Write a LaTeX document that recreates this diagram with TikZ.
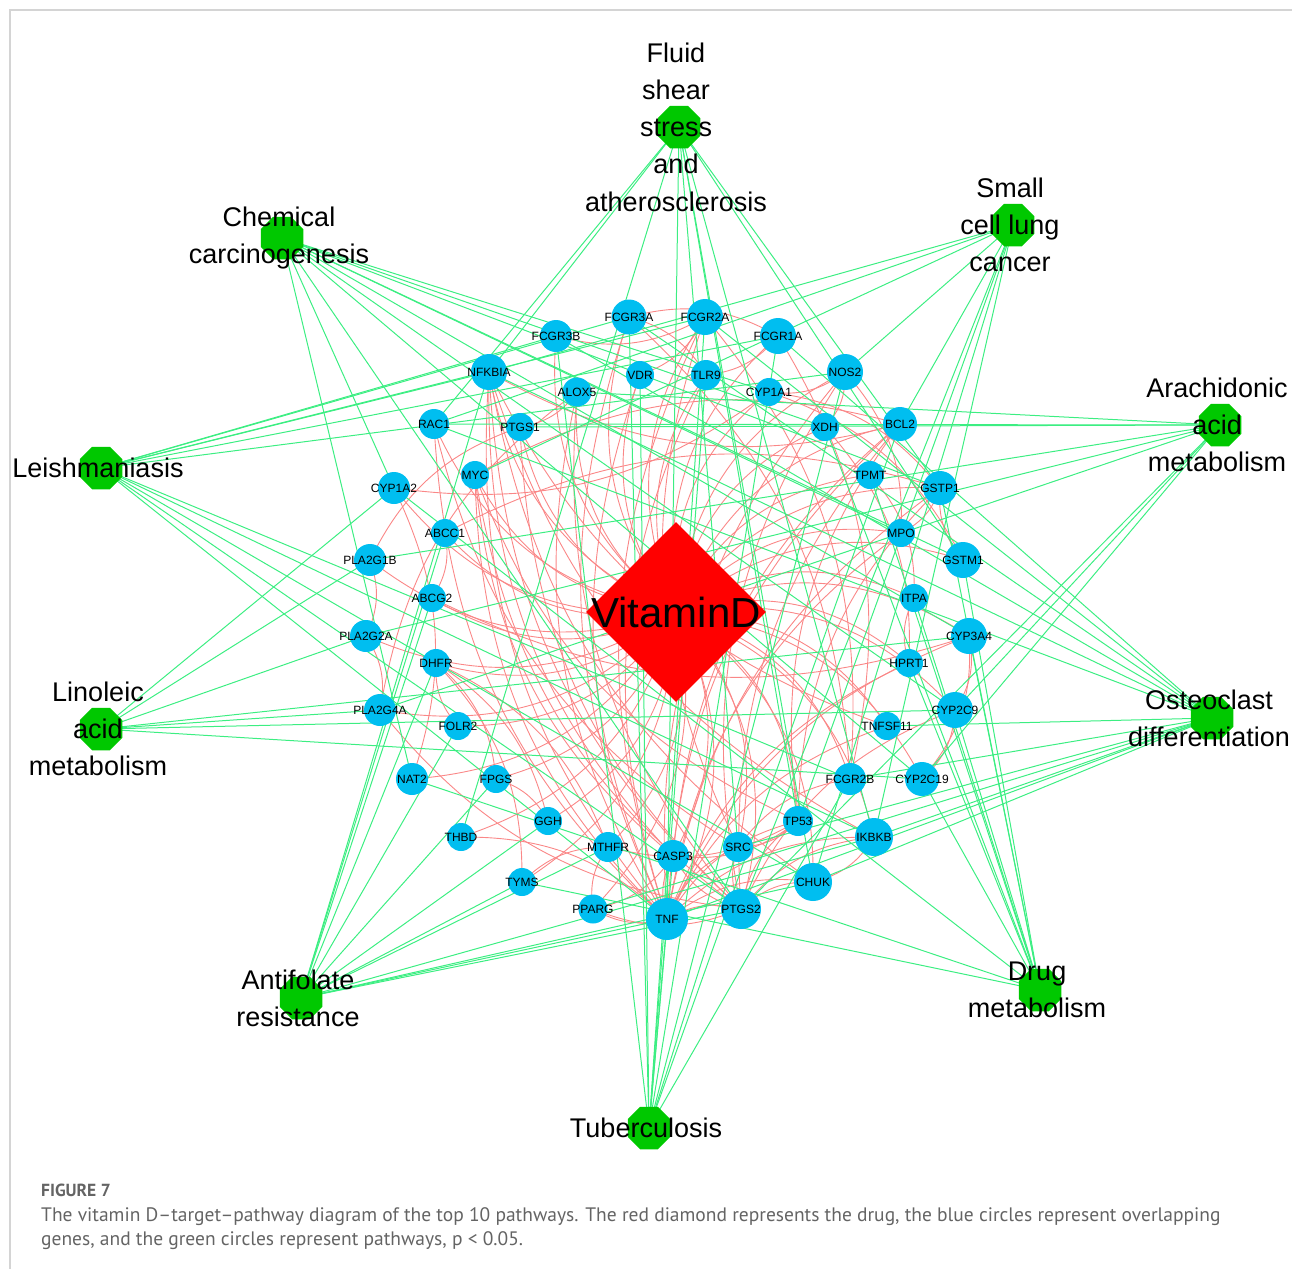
\documentclass[tikz,border=0pt]{standalone}
\usepackage{fontspec}
\setmainfont{Liberation Sans}
\newfontfamily\capfont{PT Sans}
\usetikzlibrary{shapes.geometric,backgrounds}
\definecolor{gblue}{RGB}{0,190,240}
\definecolor{pgreen}{RGB}{0,200,0}
\definecolor{egreen}{RGB}{60,238,130}
\definecolor{ered}{RGB}{250,135,135}
\definecolor{framegrey}{RGB}{212,212,212}
\definecolor{capgrey}{RGB}{100,100,100}
\newcommand\genenode[4]{%
  \node[gene,minimum size=#4] (#1) at (#2,#3) {};
  \node[genelabel] at (#1) {#1};}
\newcommand\pathnode[4]{%
  \node[pathway] (#1) at (#2,#3) {};
  \node[pathlabel] at ([xshift=-3pt]#1.center) {#4};}
\begin{document}
\begin{tikzpicture}[x=1pt,y=-1pt,
  gene/.style={circle,fill=gblue,inner sep=0pt,draw=none},
  genelabel/.style={inner sep=0pt,font=\fontsize{12}{12}\selectfont,text=black},
  pathway/.style={regular polygon,regular polygon sides=8,fill=pgreen,inner sep=0pt,minimum size=46pt},
  pathlabel/.style={inner sep=0pt,align=center,font=\fontsize{27}{37.3}\selectfont,text=black},
  drug/.style={diamond,fill=red,inner sep=0pt,minimum width=180pt,minimum height=180pt,aspect=1},
  gedge/.style={draw=egreen,line width=1pt},
  redge/.style={draw=ered,line width=0.9pt},
  framel/.style={draw=framegrey,line width=1.2pt}]
\useasboundingbox (0,0) rectangle (1292,1269);
\coordinate (fa) at (10,10);
\coordinate (fb) at (1292,10);
\coordinate (fc) at (10,1269);

% drug
\node[drug] (vd) at (676,612) {};
\node[inner sep=0pt,font=\fontsize{42}{42}\selectfont] (vdl) at (vd) {VitaminD};

% genes
\genenode{FCGR3A}{629}{317}{35}
\genenode{FCGR2A}{705}{317}{36}
\genenode{FCGR3B}{556}{336}{32}
\genenode{FCGR1A}{778}{336}{36}
\genenode{NFKBIA}{489}{372}{36}
\genenode{VDR}{640}{375}{28}
\genenode{TLR9}{706}{375}{30}
\genenode{NOS2}{845}{372}{36}
\genenode{ALOX5}{577}{392}{29}
\genenode{CYP1A1}{769}{392}{28}
\genenode{RAC1}{434}{424}{30}
\genenode{PTGS1}{520}{427}{28}
\genenode{XDH}{825}{427}{28}
\genenode{BCL2}{900}{424}{34}
\genenode{MYC}{475}{475}{28}
\genenode{TPMT}{870}{475}{28}
\genenode{CYP1A2}{394}{488}{32}
\genenode{GSTP1}{940}{488}{34}
\genenode{ABCC1}{445}{533}{28}
\genenode{MPO}{901}{533}{28}
\genenode{PLA2G1B}{370}{560}{32}
\genenode{GSTM1}{963}{560}{36}
\genenode{ABCG2}{432}{598}{28}
\genenode{ITPA}{914}{598}{28}
\genenode{PLA2G2A}{366}{636}{32}
\genenode{CYP3A4}{969}{636}{36}
\genenode{DHFR}{436}{663}{28}
\genenode{HPRT1}{909}{663}{28}
\genenode{PLA2G4A}{380}{710}{32}
\genenode{CYP2C9}{955}{710}{36}
\genenode{FOLR2}{458}{726}{28}
\genenode{TNFSF11}{887}{726}{28}
\genenode{NAT2}{412}{779}{32}
\genenode{FPGS}{496}{779}{28}
\genenode{FCGR2B}{850}{779}{32}
\genenode{CYP2C19}{922}{779}{34}
\genenode{GGH}{548}{821}{28}
\genenode{TP53}{798}{821}{30}
\genenode{THBD}{461}{837}{28}
\genenode{MTHFR}{608}{847}{30}
\genenode{SRC}{738}{847}{30}
\genenode{IKBKB}{874}{837}{38}
\genenode{CASP3}{673}{856}{32}
\genenode{TYMS}{522}{882}{28}
\genenode{CHUK}{813}{882}{38}
\genenode{PPARG}{593}{909}{29}
\genenode{PTGS2}{741}{909}{40}
\genenode{TNF}{667}{919}{42}

% pathways
\pathnode{FS}{679}{127}{Fluid\\shear\\stress\\and\\atherosclerosis}
\pathnode{CC}{282}{238}{Chemical\\carcinogenesis}
\pathnode{SC}{1013}{225}{Small\\cell lung\\cancer}
\pathnode{AA}{1220}{425}{Arachidonic\\acid\\metabolism}
\pathnode{LE}{101}{468}{Leishmaniasis}
\pathnode{LA}{101}{729}{Linoleic\\acid\\metabolism}
\pathnode{OD}{1212}{718}{Osteoclast\\differentiation}
\pathnode{DM}{1040}{990}{Drug\\metabolism}
\pathnode{AR}{301}{998}{Antifolate\\resistance}
\pathnode{TB}{649}{1128}{Tuberculosis}

% caption
\node[anchor=base west,inner sep=0pt,text=capgrey,font=\capfont\bfseries\fontsize{17.5}{17.5}\selectfont] (figno) at (41,1196) {FIGURE 7};
\node[anchor=base west,inner sep=0pt,text=capgrey,font=\capfont\fontsize{19.5}{19.5}\selectfont] (cap1) at (41,1221) {The vitamin D–target–pathway diagram of the top 10 pathways. The red diamond represents the drug, the blue circles represent overlapping};
\node[anchor=base west,inner sep=0pt,text=capgrey,font=\capfont\fontsize{19.5}{19.5}\selectfont] (cap2) at (41,1245) {genes, and the green circles represent pathways, p < 0.05.};

\begin{pgfonlayer}{background}
\draw[framel] (fb) -- (fa) -- (fc);
% drug-target edges
\foreach \g in {FCGR3A,FCGR2A,FCGR3B,FCGR1A,NFKBIA,VDR,TLR9,NOS2,ALOX5,CYP1A1,RAC1,PTGS1,XDH,BCL2,MYC,TPMT,CYP1A2,GSTP1,ABCC1,MPO,PLA2G1B,GSTM1,ABCG2,ITPA,PLA2G2A,CYP3A4,DHFR,HPRT1,PLA2G4A,CYP2C9,FOLR2,TNFSF11,NAT2,FPGS,FCGR2B,CYP2C19,GGH,TP53,THBD,MTHFR,SRC,IKBKB,CASP3,TYMS,CHUK,PPARG,PTGS2,TNF}
  \draw[redge] (vd.center) to[bend left=28] (\g.center);
% gene-gene edges
\foreach \a/\b in {TNF/NFKBIA,TNF/IKBKB,TNF/CHUK,TNF/CASP3,TNF/PTGS2,TNF/BCL2,TNF/NOS2,TNF/TP53,TNF/MPO,TNF/SRC,TNF/MYC,TNF/PPARG,TNF/TLR9,TNF/VDR,TNF/ALOX5,TNF/RAC1,TNF/TNFSF11,TNF/FCGR2A,TNF/FCGR3A,TNF/HPRT1,TNF/CYP3A4,TNF/GSTP1,
  PTGS2/NFKBIA,PTGS2/CASP3,PTGS2/TP53,PTGS2/PPARG,PTGS2/NOS2,PTGS2/BCL2,PTGS2/ALOX5,PTGS2/PTGS1,PTGS2/MYC,PTGS2/SRC,PTGS2/CHUK,PTGS2/IKBKB,PTGS2/PLA2G4A,PTGS2/CYP2C9,
  TP53/MYC,TP53/BCL2,TP53/CASP3,TP53/SRC,TP53/MTHFR,TP53/GSTP1,CASP3/BCL2,CASP3/MYC,CASP3/NFKBIA,CASP3/PPARG,IKBKB/CHUK,IKBKB/NFKBIA,CHUK/NFKBIA,SRC/RAC1,SRC/FCGR2A,SRC/FCGR2B,
  FCGR3A/TLR9,FCGR3A/FCGR2B,FCGR3A/FCGR1A,FCGR2A/VDR,FCGR2A/FCGR2B,FCGR2A/FCGR3B,FCGR1A/TLR9,FCGR1A/FCGR2B,NOS2/CYP1A1,NOS2/XDH,NOS2/MPO,
  DHFR/TYMS,DHFR/MTHFR,DHFR/GGH,DHFR/FPGS,TYMS/MTHFR,PPARG/MTHFR,FPGS/GGH,FOLR2/DHFR,ABCC1/ABCG2,ABCC1/GSTP1,
  CYP1A1/CYP1A2,CYP1A1/GSTP1,CYP1A1/GSTM1,CYP3A4/CYP2C9,CYP3A4/CYP2C19,CYP2C9/CYP2C19,CYP3A4/ABCG2,CYP1A2/NAT2,GSTM1/GSTP1,GSTP1/MPO,
  PLA2G1B/PLA2G2A,PLA2G2A/PLA2G4A,PLA2G4A/ALOX5,PLA2G1B/PTGS1,ALOX5/PTGS1,MYC/BCL2,TPMT/ITPA,HPRT1/ITPA,XDH/HPRT1,TNFSF11/NFKBIA,THBD/TNF,BCL2/NFKBIA}
  \draw[redge] (\a.center) to[bend left=22] (\b.center);
% pathway edges
\foreach \g in {NFKBIA,RAC1,THBD,TNF,SRC,TP53,IKBKB,CHUK,GSTP1,GSTM1}
  \draw[gedge] (FS.center) -- (\g.center);
\foreach \g in {CYP1A2,NAT2,CYP1A1,GSTP1,GSTM1,CYP3A4,CYP2C9,CYP2C19,PTGS2,MPO,XDH}
  \draw[gedge] (CC.center) -- (\g.center);
\foreach \g in {MYC,NFKBIA,BCL2,NOS2,TP53,PTGS2,IKBKB,CHUK,RAC1}
  \draw[gedge] (SC.center) -- (\g.center);
\foreach \g in {ALOX5,PTGS1,PTGS2,PLA2G1B,PLA2G2A,PLA2G4A,CYP2C9,CYP2C19,RAC1}
  \draw[gedge] (AA.center) -- (\g.center);
\foreach \g in {FCGR3B,FCGR3A,FCGR2A,FCGR1A,NFKBIA,NOS2,TNF,PTGS2,IKBKB,FCGR2B,CHUK}
  \draw[gedge] (LE.center) -- (\g.center);
\foreach \g in {CYP1A2,PLA2G1B,PLA2G2A,PLA2G4A,CYP3A4,CYP2C9,CYP2C19}
  \draw[gedge] (LA.center) -- (\g.center);
\foreach \g in {FCGR3B,FCGR3A,FCGR2A,FCGR1A,NFKBIA,RAC1,TNFSF11,FCGR2B,IKBKB,CHUK,TNF,PPARG,SRC}
  \draw[gedge] (OD.center) -- (\g.center);
\foreach \g in {TPMT,XDH,HPRT1,ITPA,NAT2,GSTP1,GSTM1,CYP3A4,CYP1A2,CYP2C9,CYP2C19,TYMS}
  \draw[gedge] (DM.center) -- (\g.center);
\foreach \g in {ABCC1,ABCG2,DHFR,FOLR2,FPGS,GGH,TYMS,MTHFR,NFKBIA,IKBKB,CHUK,TNF,PTGS2}
  \draw[gedge] (AR.center) -- (\g.center);
\foreach \g in {FCGR3A,FCGR2A,FCGR3B,FCGR1A,VDR,TLR9,TNF,CASP3,NOS2,BCL2,FCGR2B,SRC}
  \draw[gedge] (TB.center) -- (\g.center);
\end{pgfonlayer}
\end{tikzpicture}
\end{document}
